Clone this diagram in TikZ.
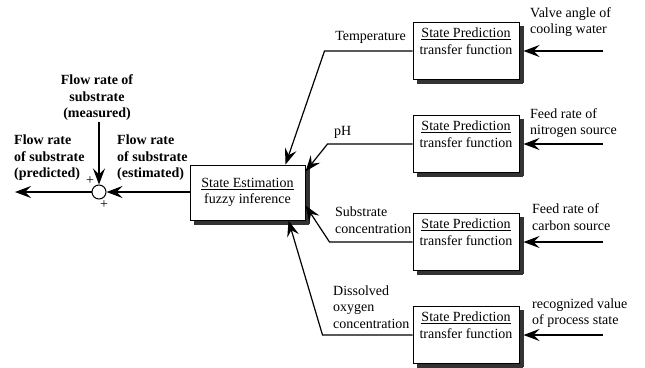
\documentclass[tikz,border=0pt]{standalone}
\usepackage{fontspec}
\setmainfont{Liberation Serif}
\usepackage{tikz}
\usetikzlibrary{arrows.meta, positioning}

\tikzset{
    arr/.style={line width=1.2pt, -{Stealth[length=16pt, width=12pt, inset=6pt]}},
    boxshade/.style={fill=black!80, draw=none},
    predbox/.style={draw, line width=1pt, fill=white, minimum width=106pt, minimum height=57pt},
    estbox/.style={draw, line width=1pt, fill=white, minimum width=115pt, minimum height=55pt, align=center},
    boxtext/.style={align=center, inner sep=2pt},
    lbl/.style={align=left, inner sep=1pt},
    flowlbl/.style={align=left, inner sep=1pt, font=\fontsize{14}{16.5}\selectfont\bfseries},
}

\begin{document}
\begin{tikzpicture}[x=1pt, y=-1pt, font=\fontsize{14}{16.5}\selectfont]
    \useasboundingbox (0,0) rectangle (645,367);

    % estimation block and summing point
    \node[estbox] (est) at (247.5,192.5) {\underline{State Estimation}\\fuzzy inference};
    \fill[boxshade] (est.south west) ++(4,0) rectangle ++(115,4);
    \fill[boxshade] (est.north east) ++(0,4) rectangle ++(4,55);
    \node[circle, draw, line width=1pt, fill=white, minimum size=14pt, inner sep=0pt] (sum) at (99,192) {};
    \coordinate (meas) at (99,122);
    \coordinate (pred) at (15,192);
    \draw[arr] (est.west |- sum) -- (sum.east);
    \draw[arr] (meas) -- (sum.north);
    \draw[arr] (sum.west) -- (pred);
    \node (plusa) at (90,181) {+};
    \node (plusb) at (104,205) {+};

    \node[flowlbl, anchor=west] (lpred) at (13,158) {Flow rate\\of substrate\\(predicted)};
    \node[flowlbl, anchor=west] (lest) at (116,158) {Flow rate\\of substrate\\(estimated)};
    \node[flowlbl, align=center] (lmeas) at (97,98) {Flow rate of\\substrate\\(measured)};

    % prediction blocks
    \foreach \n/\y in {1/51, 2/144, 3/242, 4/335} {
        \node[predbox] (p\n) at (466,\y) {};
        \fill[boxshade] (p\n.south west) ++(4,0) rectangle ++(106,4);
        \fill[boxshade] (p\n.north east) ++(0,4) rectangle ++(4,57);
        \node[boxtext, anchor=north] (pt\n) at ([yshift=-4pt]p\n.north) {\underline{State Prediction}\\transfer function};
        \coordinate (in\n) at (603,\y);
        \draw[arr] (in\n) -- ([xshift=4pt]p\n.east);
    }

    % state variables into the fuzzy inference
    \draw[arr] (p1.west) -- ++(-88,0) -- ([xshift=-20pt]est.north east);
    \draw[arr] (p2.west) -- ++(-85,0) -- ([yshift=-7pt]est.north east);
    \draw[arr] (p3.west) -- ++(-83,0) -- ([yshift=15pt]est.south east);
    \draw[arr] (p4.west) -- ++(-90,0) -- ([xshift=-17pt]est.south east);

    \node[lbl, anchor=east] (ltemp) at (407,37) {Temperature};
    \node[lbl, anchor=west] (lph) at (333,132) {pH};
    \node[lbl, anchor=west] (lsub) at (334,220) {Substrate\\concentration};
    \node[lbl, anchor=west] (loxy) at (332,307) {Dissolved\\oxygen\\concentration};

    \node[lbl, anchor=west] (lvalve) at (529,22) {Valve angle of\\cooling water};
    \node[lbl, anchor=west] (lnit) at (529,123) {Feed rate of\\nitrogen source};
    \node[lbl, anchor=west] (lcarb) at (531,217) {Feed rate of\\carbon source};
    \node[lbl, anchor=west] (lrec) at (531,313) {recognized value\\of process state};
\end{tikzpicture}
\end{document}
